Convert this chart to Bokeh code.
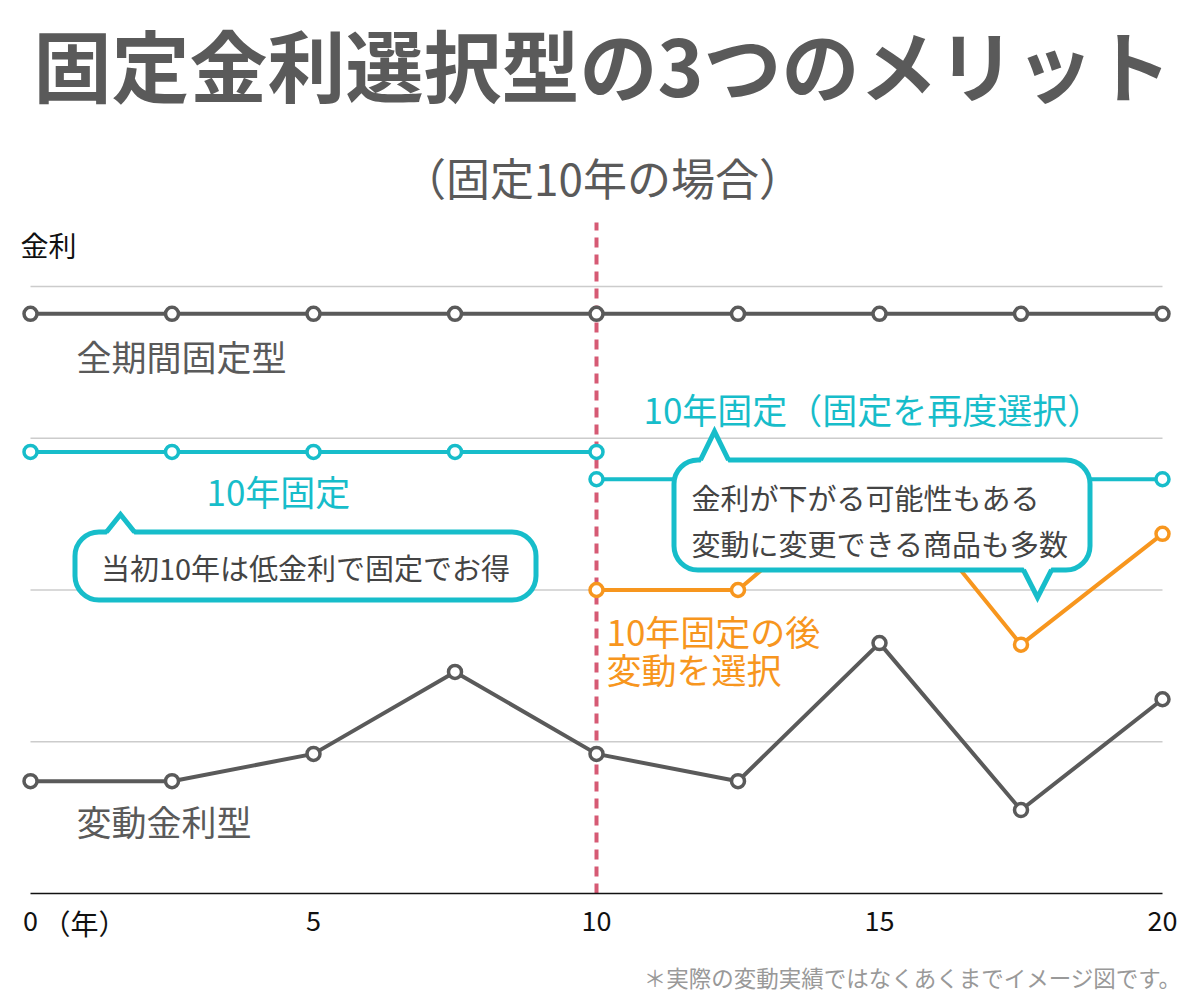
from bokeh.plotting import figure
from bokeh.models import Range1d, FixedTicker
from bokeh.core.properties import value
from bokeh.embed import file_html
from bokeh.resources import INLINE

# ---------------- data ----------------
years = [0, 2.5, 5, 7.5, 10, 12.5, 15, 17.5, 20]
fixed_all = [3.82, 3.82, 3.82, 3.82, 3.82, 3.82, 3.82, 3.82, 3.82]
variable = [0.74, 0.74, 0.92, 1.46, 0.92, 0.74, 1.65, 0.55, 1.28]
fixed10_years = [0, 2.5, 5, 7.5, 10]
fixed10 = [2.91, 2.91, 2.91, 2.91, 2.91]
later_years = [10, 12.5, 15, 17.5, 20]
refix = [2.73, 2.73, 2.73, 2.73, 2.73]
switch = [2.00, 2.00, 2.79, 1.64, 2.37]
x_ticks = [0, 5, 10, 15, 20]
x_tick_labels = {0: "0", 5: "5", 10: "10", 15: "15", 20: "20"}
y_grid = [1, 2, 3, 4]
switch_year = 10

title = "固定金利選択型の3つのメリット"
subtitle = "（固定10年の場合）"
y_label = "金利"
x_unit = "（年）"
note = "＊実際の変動実績ではなくあくまでイメージ図です。"
lab_fixed_all = "全期間固定型"
lab_fixed10 = "10年固定"
lab_refix = "10年固定（固定を再度選択）"
lab_switch = ["10年固定の後", "変動を選択"]
lab_variable = "変動金利型"
callout1 = "当初10年は低金利で固定でお得"
callout2 = ["金利が下がる可能性もある", "変動に変更できる商品も多数"]

# ---------------- style ----------------
FONT = "Noto Sans CJK JP"
GRAY = "#5a5a5a"
TEAL = "#17bdca"
ORANGE = "#f7961e"
PINK = "#d65a74"
GRID = "#cccccc"

W, H = 1184, 992
X0_PX, X20_PX = 30, 1162          # where year 0 and year 20 sit
Y0_PX, PX_UNIT = 893, 151.75      # where rate 0 sits, px per unit
PX_YEAR = (X20_PX - X0_PX) / 20.0

def dx(X):
    return (X - X0_PX) / PX_YEAR

def dy(Y):
    return (Y0_PX - Y) / PX_UNIT

p = figure(width=W, height=H,
           x_range=Range1d(dx(0), dx(W)), y_range=Range1d(dy(H), dy(0)),
           output_backend="svg", toolbar_location=None, y_axis_location=None,
           min_border=0)
p.outline_line_color = None
p.background_fill_color = "white"
p.border_fill_color = "white"
p.xgrid.visible = False
p.ygrid.visible = False

ax = p.xaxis[0]
ax.fixed_location = 0
ax.bounds = (x_ticks[0], x_ticks[-1])
ax.ticker = FixedTicker(ticks=x_ticks)
ax.major_label_overrides = x_tick_labels
ax.major_tick_line_color = None
ax.minor_tick_line_color = None
ax.axis_line_color = "#111111"
ax.axis_line_width = 1.5
ax.major_label_text_font = FONT
ax.major_label_text_font_size = "27px"
ax.major_label_text_color = "#111111"
ax.major_label_standoff = 11

# horizontal guide lines spanning the year range
p.segment(x0=[x_ticks[0]] * len(y_grid), y0=y_grid,
          x1=[x_ticks[-1]] * len(y_grid), y1=y_grid,
          line_color=GRID, line_width=1.5)

# dashed switch line
p.segment(x0=[switch_year], y0=[0], x1=[switch_year], y1=[dy(222)],
          line_color=PINK, line_width=4, line_dash="10 7")

def series(xs, ys, color):
    p.line(xs, ys, line_color=color, line_width=4)
    p.scatter(xs, ys, marker="circle", size=13, fill_color="white",
              line_color=color, line_width=3.5)

series(years, fixed_all, GRAY)
series(years, variable, GRAY)
series(fixed10_years, fixed10, TEAL)
series(later_years, switch, ORANGE)
series(later_years, refix, TEAL)

# callout boxes
def callout(l, r, t, b, pointers):
    p.quad(left=[dx(l)], right=[dx(r)], top=[dy(t)], bottom=[dy(b)],
           fill_color="white", line_color=TEAL, line_width=5, border_radius=24)
    for (bx0, bx1, by, tx, ty) in pointers:
        sgn = 1 if ty < by else -1
        p.patch([dx(bx0), dx(tx), dx(bx1)], [dy(by + 3 * sgn), dy(ty), dy(by + 3 * sgn)],
                fill_color="white", line_color=None)
        p.line([dx(bx0), dx(tx), dx(bx1)], [dy(by), dy(ty), dy(by)],
               line_color=TEAL, line_width=5, line_join="miter")

callout(74.5, 535.5, 531.5, 599.5, [(106, 134, 531.5, 120, 514)])
callout(673.5, 1089.5, 459.5, 569.5, [(700, 728, 459.5, 714, 431),
                                      (1023, 1051, 569.5, 1037, 597)])

def txt(X, Y, s, size, color, align="left", style="normal"):
    p.text(x=[dx(X)], y=[dy(Y)], text=[s], text_font=value(FONT), text_font_size=size,
           text_color=color, text_align=align, text_baseline="middle",
           text_font_style=style)

txt(602, 62, title, "78px", GRAY, "center", "bold")
txt(602, 176, subtitle, "44px", GRAY, "center")
txt(20, 244, y_label, "28px", "#111111")
txt(76, 355, lab_fixed_all, "35px", GRAY)
txt(206, 490, lab_fixed10, "35px", TEAL)
txt(643, 408, lab_refix, "35px", TEAL)
txt(606, 630, lab_switch[0], "35px", ORANGE)
txt(606, 668, lab_switch[1], "35px", ORANGE)
txt(76, 820, lab_variable, "35px", GRAY)
txt(305, 566, callout1, "29px", "#444444", "center")
txt(691, 496, callout2[0], "29px", "#444444")
txt(691, 542, callout2[1], "29px", "#444444")
txt(42, 922, x_unit, "28px", "#111111")
txt(1181, 976, note, "22.5px", "#999999", "right")

open("out.html", "w").write(file_html(p, INLINE))
